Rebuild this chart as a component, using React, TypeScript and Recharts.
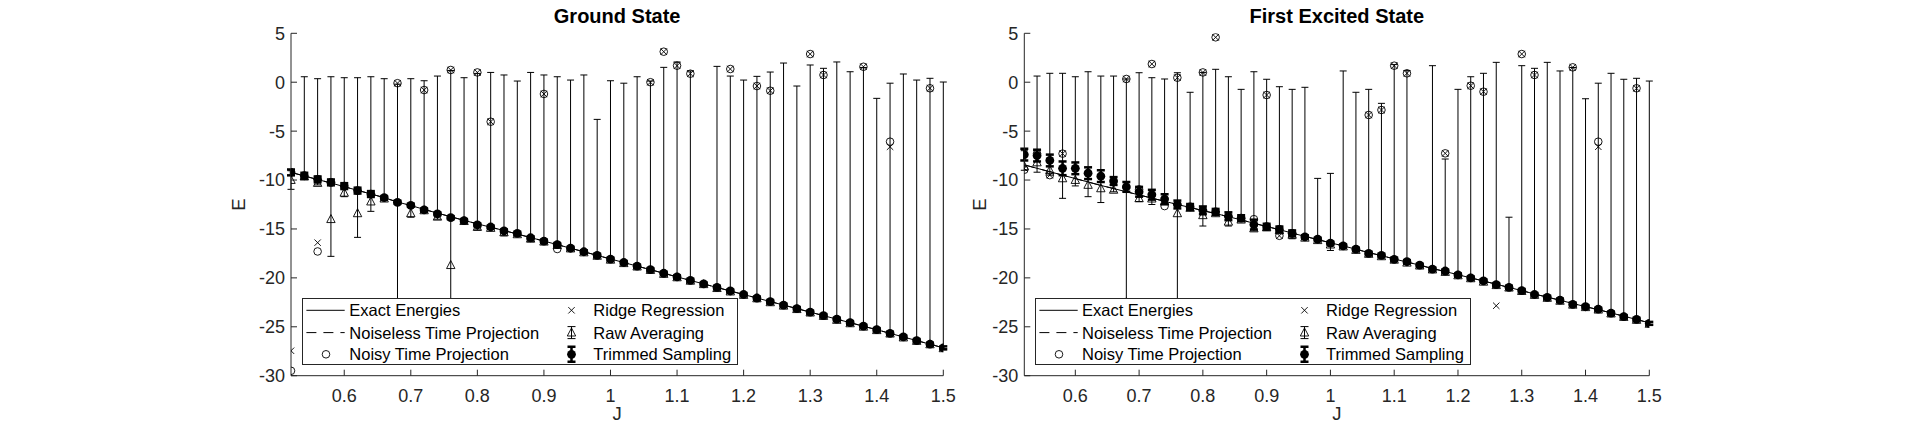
import { ComposedChart, ErrorBar, Legend, Line, Scatter, XAxis, YAxis } from 'recharts'

// J grid shared by both panels
const jValues = [
  0.52, 0.54, 0.56, 0.58, 0.6, 0.62, 0.64, 0.66, 0.68, 0.7, 0.72, 0.74, 0.76, 0.78, 0.8, 0.82, 0.84,
  0.86, 0.88, 0.9, 0.92, 0.94, 0.96, 0.98, 1, 1.02, 1.04, 1.06, 1.08, 1.1, 1.12, 1.14, 1.16, 1.18,
  1.2, 1.22, 1.24, 1.26, 1.28, 1.3, 1.32, 1.34, 1.36, 1.38, 1.4, 1.42, 1.44, 1.46, 1.48, 1.5,
]
const xTicks = [0.6, 0.7, 0.8, 0.9, 1, 1.1, 1.2, 1.3, 1.4, 1.5]
const yTicks = [-30, -25, -20, -15, -10, -5, 0, 5]

const legendNames = [
  'Exact Energies',
  'Noiseless Time Projection',
  'Noisy Time Projection',
  'Ridge Regression',
  'Raw Averaging',
  'Trimmed Sampling',
]

// ---- Ground state ----
const groundExact = [
  -9.22, -9.58, -9.95, -10.3, -10.68, -11.05, -11.42, -11.8, -12.25, -12.6, -13.0, -13.38, -13.75,
  -14.12, -14.48, -14.82, -15.16, -15.52, -15.88, -16.24, -16.6, -16.97, -17.33, -17.7, -18.07,
  -18.43, -18.8, -19.16, -19.53, -19.9, -20.26, -20.62, -20.98, -21.34, -21.7, -22.06, -22.42,
  -22.78, -23.14, -23.5, -23.86, -24.22, -24.58, -24.94, -25.3, -25.67, -26.04, -26.41, -26.78,
  -27.15,
]
const groundTrimmed = [
  -9.22, -9.56, -9.93, -10.24, -10.62, -11.08, -11.43, -11.8, -12.28, -12.58, -13.05, -13.45,
  -13.85, -14.15, -14.58, -14.8, -15.2, -15.46, -15.9, -16.24, -16.6, -16.97, -17.33, -17.7,
  -18.08, -18.43, -18.8, -19.16, -19.53, -19.9, -20.26, -20.62, -20.98, -21.34, -21.7, -22.06,
  -22.42, -22.78, -23.14, -23.5, -23.86, -24.22, -24.58, -24.94, -25.3, -25.67, -26.04, -26.41,
  -26.78, -27.15,
]
const groundTrimErr = [
  0.3, 0.3, 0.3, 0.3, 0.3, 0.3, 0.3, 0.15, 0.15, 0.15, 0.15, 0.15, 0.15, 0.15, 0.15, 0.15, 0.15,
  0.15, 0.15, 0.15, 0.15, 0.15, 0.15, 0.15, 0.15, 0.15, 0.15, 0.15, 0.15, 0.15, 0.15, 0.15, 0.15,
  0.15, 0.15, 0.15, 0.15, 0.15, 0.15, 0.15, 0.15, 0.15, 0.15, 0.15, 0.15, 0.15, 0.15, 0.15, 0.15,
  0.15,
]
const groundRaw = [
  -10.0, -9.65, -10.3, -14.0, -11.3, -13.4, -12.2, -11.9, -23.5, -13.4, -13.1, -13.75, -18.7,
  -14.2, -14.8, -14.9, -15.35, -15.55, -16.0, -16.3, -16.65, -17.0, -17.4, -17.75, -18.15, -18.5,
  -18.85, -19.2, -19.6, -19.95, -20.3, -20.65, -21.05, -21.4, -21.75, -22.1, -22.5, -22.85, -23.2,
  -23.55, -23.9, -24.3, -24.65, -25.0, -25.35, -25.7, -26.1, -26.45, -26.8, -27.2,
]
const groundRawLow = [
  -10.95, -9.9, -10.5, -17.8, -11.7, -15.86, -13.2, -12.1, -26.0, -13.8, -13.3, -14.0, -23.6,
  -14.4, -15.1, -15.05, -15.7, -15.7, -16.3, -16.5, -16.8, -17.15, -17.55, -17.9, -18.3, -18.65,
  -19.0, -19.35, -19.75, -20.1, -20.45, -20.8, -21.2, -21.55, -21.9, -22.25, -22.65, -23.0,
  -23.35, -23.7, -24.05, -24.45, -24.8, -25.15, -25.5, -25.85, -26.25, -26.6, -26.95, -27.35,
]
const groundRawHigh = [
  -9.05, 0.56, 0.36, 0.56, 0.46, 0.46, 0.56, 0.36, -0.2, 0.36, 0.15, 0.63, 1.2, 0.46, 0.9, 1.0,
  0.74, 0.12, 1.0, 0.74, 0.56, 0.22, 0.74, -3.8, 0.15, -0.1, 0.56, 0.12, 1.52, 2.07, 1.15, -20.5,
  1.62, 0.63, 0.22, 0.6, 1.04, 1.96, -0.39, 1.76, 1.42, 2.07, 1.07, 1.5, -1.65, -0.1, 0.84, 0.22,
  0.4, 0.02,
]
// only the noisy / ridge points that stand off the curve are visible
const groundNoisyJ = [
  0.52, 0.56, 0.68, 0.72, 0.76, 0.8, 0.82, 0.9, 0.92, 1.06, 1.08, 1.1, 1.12, 1.18, 1.22, 1.24, 1.3,
  1.32, 1.38, 1.42, 1.48,
]
const groundNoisy = [
  -29.5, -17.3, -0.1, -0.8, 1.25, 1.0, -4.04, -1.2, -17.05, 0.0, 3.12, 1.69, 0.87, 1.35, -0.39,
  -0.87, 2.88, 0.74, 1.58, -6.08, -0.62,
]
const groundRidgeJ = [
  0.52, 0.56, 0.68, 0.72, 0.76, 0.8, 0.82, 0.9, 1.06, 1.08, 1.1, 1.12, 1.18, 1.22, 1.24, 1.3, 1.32,
  1.38, 1.42, 1.48,
]
const groundRidge = [
  -27.45, -16.4, -0.1, -0.8, 1.25, 1.0, -4.04, -1.2, 0.0, 3.12, 1.69, 0.87, 1.35, -0.39, -0.87,
  2.88, 0.74, 1.58, -6.6, -0.62,
]

// ---- First excited state ----
const excitedExact = [
  -8.45, -8.8, -9.15, -9.5, -9.85, -10.2, -10.55, -10.87, -11.2, -11.52, -11.85, -12.17, -12.5,
  -12.8, -13.13, -13.42, -13.75, -14.07, -14.42, -14.75, -15.07, -15.42, -15.76, -16.08, -16.42,
  -16.73, -17.07, -17.42, -17.72, -18.07, -18.38, -18.7, -19.05, -19.35, -19.68, -20.0, -20.32,
  -20.65, -20.98, -21.3, -21.65, -21.97, -22.28, -22.62, -22.94, -23.25, -23.58, -23.92, -24.25,
  -24.6,
]
const excitedTrimmed = [
  -7.4, -7.5, -8.0, -8.8, -8.8, -9.3, -9.6, -10.1, -10.7, -11.2, -11.5, -11.95, -12.5, -12.75,
  -13.1, -13.25, -13.7, -13.9, -14.55, -14.77, -15.05, -15.45, -15.8, -16.05, -16.45, -16.72,
  -17.07, -17.5, -17.7, -18.1, -18.35, -18.7, -19.1, -19.3, -19.7, -20.0, -20.3, -20.7, -20.97,
  -21.3, -21.7, -22.0, -22.27, -22.7, -22.95, -23.2, -23.6, -23.97, -24.25, -24.65,
]
const excitedTrimErr = [
  0.6, 0.6, 0.6, 0.7, 0.6, 0.6, 0.6, 0.4, 0.5, 0.5, 0.5, 0.5, 0.4, 0.3, 0.4, 0.3, 0.4, 0.3, 0.5,
  0.3, 0.3, 0.3, 0.15, 0.15, 0.15, 0.15, 0.15, 0.15, 0.15, 0.15, 0.15, 0.15, 0.15, 0.15, 0.15,
  0.15, 0.15, 0.15, 0.15, 0.15, 0.15, 0.15, 0.15, 0.15, 0.15, 0.15, 0.15, 0.15, 0.15, 0.15,
]
const excitedRaw = [
  -8.6, -8.2, -9.0, -9.83, -10.0, -10.5, -10.85, -11.0, -22.5, -11.87, -11.9, -12.2, -13.4, -12.85,
  -13.6, -13.4, -14.26, -14.05, -14.95, -14.85, -15.15, -15.6, -15.9, -16.15, -16.6, -16.8,
  -17.15, -17.55, -17.8, -18.15, -18.45, -18.75, -19.15, -19.4, -19.75, -20.05, -20.4, -20.75,
  -21.0, -21.35, -21.75, -22.05, -22.35, -22.75, -23.0, -23.25, -23.65, -24.0, -24.3, -24.7,
]
const excitedRawLow = [
  -9.0, -9.2, -9.5, -11.87, -10.6, -11.7, -12.3, -11.2, -24.0, -12.2, -12.5, -12.4, -24.0, -13.0,
  -14.7, -13.6, -14.7, -14.2, -15.2, -15.0, -15.3, -16.0, -16.05, -16.3, -17.2, -16.95, -17.3,
  -17.7, -17.95, -18.3, -18.6, -18.9, -19.3, -19.55, -19.9, -20.2, -20.55, -20.9, -21.2, -21.5,
  -21.9, -22.2, -22.5, -22.9, -23.15, -23.4, -23.8, -24.15, -24.45, -24.85,
]
const excitedRawHigh = [
  -7.0, 0.63, 0.91, 0.91, 0.56, 1.07, 0.63, 0.63, 0.33, 0.97, 0.46, 0.33, 0.97, -1.03, 1.0, 1.32,
  0.56, -0.73, 1.07, 0.3, -0.46, -0.73, -0.52, -9.83, -9.32, 1.15, -1.03, -0.73, -2.16, 1.8, 1.18,
  -18.55, 1.69, -7.85, -0.73, 0.56, 0.91, 2.03, -13.8, 1.69, 1.42, 2.03, 1.15, 1.5, -1.69, -0.1,
  0.91, 0.3, 0.4, 0.12,
]
const excitedNoisyJ = [
  0.52, 0.54, 0.56, 0.58, 0.68, 0.7, 0.72, 0.74, 0.76, 0.8, 0.82, 0.88, 0.9, 0.92, 1.06, 1.08, 1.1,
  1.12, 1.18, 1.22, 1.24, 1.3, 1.32, 1.38, 1.42, 1.48,
]
const excitedNoisy = [
  -8.95, -7.3, -9.5, -7.3, 0.33, -10.95, 1.86, -12.66, 0.46, 1.0, 4.59, -14.0, -1.31, -15.7, -3.35,
  -2.84, 1.69, 0.91, -7.27, -0.36, -0.97, 2.88, 0.74, 1.52, -6.08, -0.62,
]
const excitedRidgeJ = [
  0.52, 0.54, 0.56, 0.58, 0.68, 0.7, 0.72, 0.76, 0.8, 0.82, 0.9, 0.92, 1.06, 1.08, 1.1, 1.12, 1.18,
  1.22, 1.24, 1.26, 1.3, 1.32, 1.38, 1.42, 1.48,
]
const excitedRidge = [
  -8.8, -7.3, -9.5, -7.3, 0.33, -10.95, 1.86, 0.46, 1.0, 4.59, -1.31, -15.7, -3.35, -2.84, 1.69,
  0.91, -7.27, -0.36, -0.97, -22.85, 2.88, 0.74, 1.52, -6.6, -0.62,
]

const FONT = '"Liberation Sans", Arial, Helvetica, sans-serif'
const AXIS_COLOR = '#262626'
const CHART_HEIGHT = 434
const PLOT_TOP = 33.3
const PLOT_BOTTOM = 375.7
const X_AXIS_HEIGHT = 44
const Y_AXIS_WIDTH = 60
const LEGEND_TOP = 297.7

type MarkerProps = { cx?: number; cy?: number }

const openCircle = ({ cx = 0, cy = 0 }: MarkerProps) => (
  <circle cx={cx} cy={cy} r={3.8} fill="none" stroke="#000" strokeWidth={0.9} />
)
const cross = ({ cx = 0, cy = 0 }: MarkerProps) => (
  <path
    d={`M${cx - 3.2},${cy - 3.2}L${cx + 3.2},${cy + 3.2}M${cx - 3.2},${cy + 3.2}L${cx + 3.2},${cy - 3.2}`}
    stroke="#000"
    strokeWidth={0.9}
    fill="none"
  />
)
const triangle = ({ cx = 0, cy = 0 }: MarkerProps) => (
  <polygon
    points={`${cx},${cy - 4.6} ${cx - 4.2},${cy + 3.4} ${cx + 4.2},${cy + 3.4}`}
    fill="none"
    stroke="#000"
    strokeWidth={0.9}
  />
)
const filledDot = ({ cx = 0, cy = 0 }: MarkerProps) => <circle cx={cx} cy={cy} r={4.4} fill="#000" />

function LegendBox() {
  const rows = [11.3, 33.6, 55.3]
  return (
    <div
      style={{
        position: 'relative',
        width: 436,
        height: 67,
        boxSizing: 'border-box',
        border: `1px solid ${AXIS_COLOR}`,
        background: '#fff',
        fontFamily: FONT,
        fontSize: 16.5,
        color: '#000',
      }}
    >
      <svg width={434} height={65} style={{ position: 'absolute', left: 0, top: 0 }}>
        <line x1={3.4} x2={41.7} y1={rows[0]} y2={rows[0]} stroke="#000" />
        <line x1={3.4} x2={41.7} y1={rows[1]} y2={rows[1]} stroke="#000" strokeDasharray="10 7" />
        {openCircle({ cx: 23, cy: rows[2] })}
        {cross({ cx: 268.5, cy: rows[0] })}
        <path
          d={`M268.5,${rows[1] - 6}V${rows[1] + 6}M264.5,${rows[1] - 6}H272.5M264.5,${rows[1] + 6}H272.5`}
          stroke="#000"
        />
        {triangle({ cx: 268.5, cy: rows[1] })}
        <path
          d={`M268.5,${rows[2] - 7.5}V${rows[2] + 7.5}M264.5,${rows[2] - 7.5}H272.5M264.5,${rows[2] + 7.5}H272.5`}
          stroke="#000"
          strokeWidth={2.5}
        />
        {filledDot({ cx: 268.5, cy: rows[2] })}
      </svg>
      {legendNames.map((name, i) => (
        <div
          key={name}
          style={{
            position: 'absolute',
            left: i < 3 ? 46 : 290,
            top: rows[i % 3] - 9.6,
            lineHeight: '20px',
            whiteSpace: 'nowrap',
          }}
        >
          {name}
        </div>
      ))}
    </div>
  )
}

interface PanelProps {
  title: string
  left: number
  width: number
  plotLeft: number
  plotRight: number
  legendLeft: number
  labelOffset: number
  exact: number[]
  trimmed: number[]
  trimErr: number[]
  raw: number[]
  rawLow: number[]
  rawHigh: number[]
  noisyJ: number[]
  noisy: number[]
  ridgeJ: number[]
  ridge: number[]
}

function StatePanel(p: PanelProps) {
  const lineRows = jValues.map((J, i) => ({ J, exact: p.exact[i], noiseless: p.exact[i] }))
  const noisyRows = p.noisyJ.map((J, i) => ({ J, E: p.noisy[i] }))
  const ridgeRows = p.ridgeJ.map((J, i) => ({ J, E: p.ridge[i] }))
  const rawRows = jValues.map((J, i) => ({
    J,
    E: p.raw[i],
    err: [p.raw[i] - p.rawLow[i], p.rawHigh[i] - p.raw[i]],
  }))
  const trimRows = jValues.map((J, i) => ({ J, E: p.trimmed[i], err: p.trimErr[i] }))
  const tickStyle = { fill: AXIS_COLOR, fontSize: 18, fontFamily: FONT }

  return (
    <div style={{ position: 'absolute', left: p.left, top: 0, width: p.width, height: CHART_HEIGHT }}>
      <div
        style={{
          position: 'absolute',
          left: p.plotLeft - p.left,
          width: p.plotRight - p.plotLeft,
          top: 6,
          textAlign: 'center',
          fontFamily: FONT,
          fontWeight: 'bold',
          fontSize: 20,
          lineHeight: '20px',
          color: '#000',
        }}
      >
        {p.title}
      </div>
      <ComposedChart
        width={p.width}
        height={CHART_HEIGHT}
        data={lineRows}
        margin={{
          top: PLOT_TOP,
          right: p.left + p.width - p.plotRight,
          bottom: CHART_HEIGHT - PLOT_BOTTOM - X_AXIS_HEIGHT,
          left: p.plotLeft - p.left - Y_AXIS_WIDTH,
        }}
      >
        <XAxis
          type="number"
          dataKey="J"
          domain={[0.52, 1.5]}
          ticks={xTicks}
          interval={0}
          allowDataOverflow
          height={X_AXIS_HEIGHT}
          tickSize={-6}
          tickMargin={19.2}
          tick={tickStyle}
          stroke={AXIS_COLOR}
          label={{
            value: 'J',
            position: 'insideBottom',
            offset: 0,
            fill: AXIS_COLOR,
            style: { fontSize: 18.5, fontFamily: FONT, fill: AXIS_COLOR },
          }}
        />
        <YAxis
          type="number"
          domain={[-30, 5]}
          ticks={yTicks}
          interval={0}
          allowDataOverflow
          width={Y_AXIS_WIDTH}
          tickSize={-6}
          tickMargin={12}
          tick={tickStyle}
          stroke={AXIS_COLOR}
          label={{
            value: 'E',
            angle: -90,
            position: 'insideLeft',
            offset: p.labelOffset,
            fill: AXIS_COLOR,
            style: { fontSize: 18.5, fontFamily: FONT, fill: AXIS_COLOR, textAnchor: 'middle' },
          }}
        />
        <Line
          dataKey="exact"
          name={legendNames[0]}
          stroke="#000"
          strokeWidth={1}
          dot={false}
          activeDot={false}
          isAnimationActive={false}
        />
        <Line
          dataKey="noiseless"
          name={legendNames[1]}
          stroke="#000"
          strokeWidth={1}
          strokeDasharray="10 7"
          dot={false}
          activeDot={false}
          isAnimationActive={false}
        />
        <Scatter data={noisyRows} dataKey="E" name={legendNames[2]} shape={openCircle} isAnimationActive={false} />
        <Scatter data={ridgeRows} dataKey="E" name={legendNames[3]} shape={cross} isAnimationActive={false} />
        <Scatter data={rawRows} dataKey="E" name={legendNames[4]} shape={triangle} isAnimationActive={false}>
          <ErrorBar dataKey="err" direction="y" width={3.5} stroke="#000" strokeWidth={1} isAnimationActive={false} />
        </Scatter>
        <Scatter data={trimRows} dataKey="E" name={legendNames[5]} shape={filledDot} isAnimationActive={false}>
          <ErrorBar dataKey="err" direction="y" width={4} stroke="#000" strokeWidth={2.5} isAnimationActive={false} />
        </Scatter>
        <Legend
          verticalAlign="middle"
          align="center"
          layout="horizontal"
          content={() => <LegendBox />}
          wrapperStyle={{ left: p.legendLeft - p.left, top: LEGEND_TOP, width: 436, height: 67 }}
        />
      </ComposedChart>
    </div>
  )
}

export default function App() {
  return (
    <div style={{ position: 'absolute', left: 0, top: 0, width: 1914, height: 434, background: '#fff' }}>
      <StatePanel
        title="Ground State"
        left={0}
        width={960}
        plotLeft={291}
        plotRight={943.3}
        legendLeft={302.3}
        labelOffset={7.5}
        exact={groundExact}
        trimmed={groundTrimmed}
        trimErr={groundTrimErr}
        raw={groundRaw}
        rawLow={groundRawLow}
        rawHigh={groundRawHigh}
        noisyJ={groundNoisyJ}
        noisy={groundNoisy}
        ridgeJ={groundRidgeJ}
        ridge={groundRidge}
      />
      <StatePanel
        title="First Excited State"
        left={960}
        width={954}
        plotLeft={1024.3}
        plotRight={1649.3}
        legendLeft={1035}
        labelOffset={14.7}
        exact={excitedExact}
        trimmed={excitedTrimmed}
        trimErr={excitedTrimErr}
        raw={excitedRaw}
        rawLow={excitedRawLow}
        rawHigh={excitedRawHigh}
        noisyJ={excitedNoisyJ}
        noisy={excitedNoisy}
        ridgeJ={excitedRidgeJ}
        ridge={excitedRidge}
      />
    </div>
  )
}
